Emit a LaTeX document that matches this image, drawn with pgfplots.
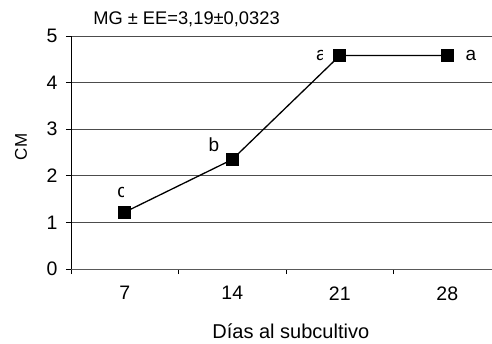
\documentclass[border=0pt]{standalone}
\usepackage{fontspec}
\setmainfont{Liberation Sans}
\usepackage{pgfplots}
\pgfplotsset{compat=1.18}
\begin{document}
\begin{tikzpicture}[x=1pt,y=1pt]
\useasboundingbox (0,0) rectangle (492,343);
\begin{axis}[
 at={(71pt,74pt)}, anchor=south west,
 scale only axis, width=421pt, height=233pt,
 xmin=0.5, xmax=4.416, ymin=0, ymax=5,
 clip=false,
 axis x line=bottom, axis y line=left,
 axis line style={-},
 x axis line style={black!65, line width=1pt},
 y axis line style={black, line width=1pt},
 xtick={0.5,1.5,2.5,3.5,4.5}, xticklabels={},
 extra x ticks={1,2,3,4}, extra x tick labels={7,14,21,28},
 extra x tick style={major tick length=0pt},
 ytick={0,1,2,3,4,5},
 ymajorgrids, grid style={black!70, line width=1pt},
 tick align=outside,
 major tick length=5pt,
 every tick/.style={black, line width=1pt},
 ticklabel style={font=\fontsize{19.5}{19.5}\selectfont},
 yticklabel style={xshift=-5pt},
 xticklabel style={yshift=-14pt},
 /pgf/number format/assume math mode=true,
]
\addplot[black, line width=1.3pt, mark=square*, mark size=5.7pt, mark options={solid}]
 coordinates {(1,1.22) (2,2.35) (3,4.58) (4,4.58)};
\begin{scope}
\clip (axis cs:0.85,1.4) rectangle (axis cs:0.988,1.9);
\node[font=\fontsize{19}{19}\selectfont] at (axis cs:0.975,1.65) {c};
\end{scope}
\node[font=\fontsize{19}{19}\selectfont] at (axis cs:1.83,2.66) {b};
\begin{scope}
\clip (axis cs:2.7,4.3) rectangle (axis cs:2.835,4.9);
\node[font=\fontsize{19}{19}\selectfont] at (axis cs:2.83,4.59) {a};
\end{scope}
\node[font=\fontsize{19}{19}\selectfont] at (axis cs:4.22,4.59) {a};
\end{axis}
\node[anchor=base, font=\fontsize{18.3}{18}\selectfont] at (186.5,318) {MG ± EE=3,19±0,0323};
\node[anchor=base, font=\fontsize{20}{20}\selectfont] at (290.8,5) {Días al subcultivo};
\node[rotate=90, font=\fontsize{17}{17}\selectfont] at (21,196) {CM};
\end{tikzpicture}
\end{document}
